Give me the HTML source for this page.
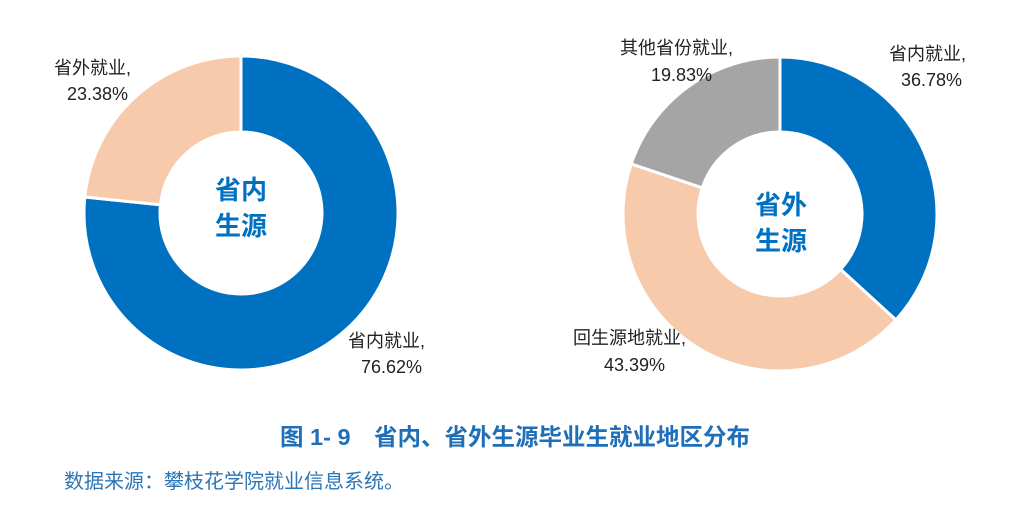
<!DOCTYPE html>
<html><head><meta charset="utf-8">
<style>
body{margin:0;background:#fff;width:1017px;height:508px;overflow:hidden;font-family:"Liberation Sans","Noto Sans CJK SC",sans-serif;}
svg text{font-family:"Liberation Sans","Noto Sans CJK SC",sans-serif;}
</style></head>
<body>
<svg id="chart" width="1017" height="508">
<g id="left"></g>
<g id="right"></g>
<text x="241" y="199" text-anchor="middle" font-size="26" font-weight="bold" fill="#0070C0">省内</text>
<text x="241" y="235" text-anchor="middle" font-size="26" font-weight="bold" fill="#0070C0">生源</text>
<text x="781" y="214" text-anchor="middle" font-size="26" font-weight="bold" fill="#0070C0">省外</text>
<text x="781" y="250" text-anchor="middle" font-size="26" font-weight="bold" fill="#0070C0">生源</text>
<g font-size="18" fill="#222">
<text x="54" y="74">省外就业,</text>
<text x="67" y="100">23.38%</text>
<text x="348" y="347">省内就业,</text>
<text x="361" y="373">76.62%</text>
<text x="620" y="54">其他省份就业,</text>
<text x="651" y="81">19.83%</text>
<text x="889" y="60">省内就业,</text>
<text x="901" y="86">36.78%</text>
<text x="573" y="344">回生源地就业,</text>
<text x="604" y="371">43.39%</text>
</g>
<text x="515" y="445" text-anchor="middle" font-size="23.5" font-weight="bold" fill="#1F6FB8">图 1- 9　省内、省外生源毕业生就业地区分布</text>
<text x="64" y="488" font-size="20" fill="#2E75B6">数据来源：攀枝花学院就业信息系统。</text>
</svg>
<script>
const leftCategories=["省内就业","省外就业"];
const leftValues=[76.62,23.38];
const rightCategories=["省内就业","回生源地就业","其他省份就业"];
const rightValues=[36.78,43.39,19.83];
const leftColors=["#0070C0","#F7CAAC"];
const rightColors=["#0070C0","#F7CAAC","#A5A5A5"];
function pt(cx,cy,r,a){return [cx+r*Math.sin(a),cy-r*Math.cos(a)];}
function donut(gid,cx,cy,R,r,vals,cols,names){
  const g=document.getElementById(gid);
  const tot=vals.reduce((a,b)=>a+b,0);
  let a0=0;
  vals.forEach((v,i)=>{
    const a1=a0+v/tot*2*Math.PI;
    const large=(a1-a0)>Math.PI?1:0;
    const p1=pt(cx,cy,R,a0),p2=pt(cx,cy,R,a1),p3=pt(cx,cy,r,a1),p4=pt(cx,cy,r,a0);
    const d=`M${p1[0]},${p1[1]}A${R},${R} 0 ${large} 1 ${p2[0]},${p2[1]}L${p3[0]},${p3[1]}A${r},${r} 0 ${large} 0 ${p4[0]},${p4[1]}Z`;
    const p=document.createElementNS("http://www.w3.org/2000/svg","path");
    p.setAttribute("d",d);p.setAttribute("fill",cols[i]);
    p.setAttribute("stroke","#fff");p.setAttribute("stroke-width","3");
    
    
    g.appendChild(p);
    a0=a1;
  });
}
donut("left",241,213,157,81,leftValues,leftColors,leftCategories);
donut("right",780,214,157,82,rightValues,rightColors,rightCategories);
</script>
</body></html>
